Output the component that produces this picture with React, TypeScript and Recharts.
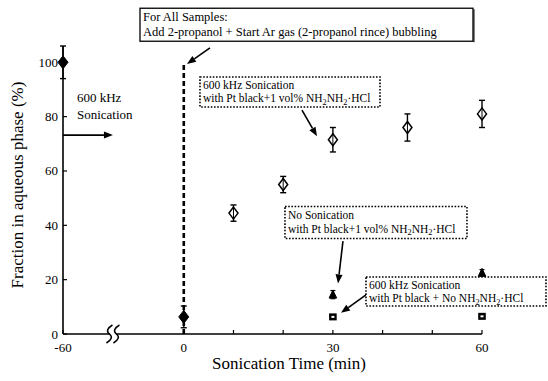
import React from 'react';
import { ScatterChart, Scatter, XAxis, YAxis, ErrorBar, ReferenceLine, ReferenceDot, Label } from 'recharts';

const FONT = "'Liberation Serif', 'Times New Roman', Times, 'DejaVu Serif', serif";

// ---- data (time in minutes, fraction in %) ----
const initialTime = [-60, 0];
const initialFraction = [100, 6.3];
const initialErr = [6, 4];

const sonicTime = [10, 20, 30, 45, 60];
const sonicFraction = [44.5, 55, 71.5, 76, 81];
const sonicErr = [3, 3, 4.5, 5, 5];

const noSonicTime = [30, 60];
const noSonicFraction = [14.5, 22.5];
const noSonicErr = [1.5, 1.2];

const noHydTime = [30, 60];
const noHydFraction = [6.3, 6.5];
const noHydErr = [0.8, 0.8];

const xTickValues = [-60, 0, 10, 20, 30, 40, 50, 60];
const xTickLabels = ['-60', '0', '', '', '30', '', '', '60'];
const yTickValues = [0, 20, 40, 60, 80, 100];
const yTickLabels = ['0', '20', '40', '60', '80', '100'];

// broken axis: the negative part is compressed
const BREAK_SCALE = 24.3 / 60;
const toAxis = (t: number) => (t < 0 ? t * BREAK_SCALE : t);

const build = (t: number[], f: number[], e: number[]) =>
  t.map((v, i) => ({ x: toAxis(v), y: f[i], err: e[i] }));

const initialData = build(initialTime, initialFraction, initialErr);
const sonicData = build(sonicTime, sonicFraction, sonicErr);
const noSonicData = build(noSonicTime, noSonicFraction, noSonicErr);
const noHydData = build(noHydTime, noHydFraction, noHydErr);

// ---- annotation texts ----
const topBoxLines = ['For All Samples:', 'Add 2-propanol + Start Ar gas (2-propanol rince) bubbling'];
const box2Lines = ['600 kHz Sonication', 'with Pt black+1 vol% NH₂NH₂·HCl'];
const box3Lines = ['No Sonication', 'with Pt black+1 vol% NH₂NH₂·HCl'];
const box4Lines = ['600 kHz Sonication', 'with Pt black + No NH₂NH₂·HCl'];
const leftLines = ['600 kHz', 'Sonication'];

const txt = { fontFamily: FONT };

// ---- shapes ----
const FilledDiamond = (p: any) => {
  const { cx, cy } = p;
  return <polygon points={`${cx},${cy - 6.5} ${cx + 5},${cy} ${cx},${cy + 6.5} ${cx - 5},${cy}`} fill="#000" stroke="#000" strokeWidth={1} />;
};
const OpenDiamond = (p: any) => {
  const { cx, cy } = p;
  return (
    <g>
      <polygon points={`${cx},${cy - 6} ${cx + 4.5},${cy} ${cx},${cy + 6} ${cx - 4.5},${cy}`} fill="#fff" stroke="#000" strokeWidth={1.5} />
      <line x1={cx} y1={cy - 6} x2={cx} y2={cy + 6} stroke="#000" strokeWidth={1} />
    </g>
  );
};
const Triangle = (p: any) => {
  const { cx, cy } = p;
  return <polygon points={`${cx},${cy - 4.5} ${cx + 3.8},${cy + 3.5} ${cx - 3.8},${cy + 3.5}`} fill="#000" stroke="#000" strokeWidth={1} />;
};
const Square = (p: any) => {
  const { cx, cy } = p;
  return (
    <g>
      <rect x={cx - 3.8} y={cy - 3.5} width={7.6} height={7} fill="#000" />
      <rect x={cx - 1.5} y={cy - 1} width={3} height={2} fill="#fff" />
    </g>
  );
};

const Rich = ({ text, fs }: { text: string; fs: number }) => {
  const parts = text.split('₂');
  const out: any[] = [];
  parts.forEach((part, i) => {
    if (i > 0) out.push(<tspan key={'s' + i} dy={2.5} fontSize={fs * 0.72}>2</tspan>);
    out.push(<tspan key={'p' + i} dy={i > 0 ? -2.5 : 0}>{part}</tspan>);
  });
  return <>{out}</>;
};

const makeBox = (lines: string[], w: number, h: number, fs: number, lh: number, dotted: boolean) => (p: any) => {
  const { cx, cy } = p;
  return (
    <g>
      <rect x={cx} y={cy} width={w} height={h} fill="#fff" stroke="#000"
        strokeWidth={dotted ? 1.6 : 1.3} strokeDasharray={dotted ? '1.6 1.6' : undefined} />
      {!dotted && <line x1={cx + w + 1} y1={cy + 1} x2={cx + w + 1} y2={cy + h + 1} stroke="#000" strokeWidth={1} />}
      {lines.map((l, i) => (
        <text key={i} x={cx + 3} y={cy + fs + 0.5 + i * lh} fontFamily={FONT} style={txt} fontSize={fs} fill="#000">
          <Rich text={l} fs={fs} />
        </text>
      ))}
    </g>
  );
};

const LeftLabel = (p: any) => {
  const { cx, cy } = p;
  return (
    <g>
      {leftLines.map((l, i) => (
        <text key={i} x={cx} y={cy + i * 17} fontFamily={FONT} style={txt} fontSize={13} fill="#000">{l}</text>
      ))}
    </g>
  );
};

const BreakMark = (p: any) => {
  const { cx, cy } = p;
  const s = (ox: number) => `M ${ox + 3} ${cy - 9} Q ${ox - 5} ${cy - 4} ${ox} ${cy} Q ${ox + 5} ${cy + 4} ${ox - 3} ${cy + 9}`;
  return (
    <g>
      <rect x={cx - 3} y={cy - 2} width={6} height={4} fill="#fff" />
      <path d={s(cx - 3.5)} fill="none" stroke="#000" strokeWidth={1.5} />
      <path d={s(cx + 3.5)} fill="none" stroke="#000" strokeWidth={1.5} />
    </g>
  );
};

const Arrow = (p: any) => {
  const { x1, y1, x2, y2 } = p;
  const ang = Math.atan2(y2 - y1, x2 - x1);
  const L = 9, W = 3.5;
  const bx = x2 - L * Math.cos(ang), by = y2 - L * Math.sin(ang);
  const nx = -Math.sin(ang) * W, ny = Math.cos(ang) * W;
  return (
    <g>
      <line x1={x1} y1={y1} x2={bx} y2={by} stroke="#000" strokeWidth={1.6} />
      <polygon points={`${x2},${y2} ${bx + nx},${by + ny} ${bx - nx},${by - ny}`} fill="#000" />
    </g>
  );
};

const XTick = (p: any) => {
  const { x, y, payload } = p;
  const i = xTickValues.findIndex((t) => Math.abs(toAxis(t) - payload.value) < 1e-6);
  const lab = i >= 0 ? xTickLabels[i] : '';
  return (
    <g>
      <line x1={x} y1={y} x2={x} y2={y - 4} stroke="#000" strokeWidth={1.2} />
      {lab && <text x={x} y={y + 18} textAnchor="middle" fontFamily={FONT} style={txt} fontSize={13} fill="#000">{lab}</text>}
    </g>
  );
};

const YTick = (p: any) => {
  const { x, y, payload } = p;
  const i = yTickValues.indexOf(payload.value);
  return (
    <g>
      <line x1={x} y1={y} x2={x + 4} y2={y} stroke="#000" strokeWidth={1.2} />
      <text x={x - 5} y={y + 4.5} textAnchor="end" fontFamily={FONT} style={txt} fontSize={13} fill="#000">{i >= 0 ? yTickLabels[i] : ''}</text>
    </g>
  );
};

const arrows = [
  [[5.27, 105.3], [0.64, 99.4]],
  [[-24.3, 73.2], [-14.25, 73.2]],
  [[23.78, 82.4], [26.8, 72.8]],
  [[32.03, 34.2], [31.03, 18.6]],
  [[36.86, 14.7], [31.63, 7.8]],
];

export default function App() {
  return (
    <div style={{ position: 'absolute', left: 0, top: 0, width: 548, height: 381, background: '#fff' }}>
      <ScatterChart width={548} height={381} margin={{ top: 46, right: 66, bottom: 17, left: 18 }}>
        <XAxis type="number" dataKey="x" domain={[toAxis(-60), 60]} ticks={xTickValues.map(toAxis)} interval={0}
          tickSize={0} tickMargin={0} tickLine={false} axisLine={{ stroke: '#000', strokeWidth: 1.6 }} height={30} tick={XTick}>
          <Label content={() => (
            <text x={289} y={369} textAnchor="middle" fontFamily={FONT} style={txt} fontSize={17} fill="#000">Sonication Time (min)</text>
          )} />
        </XAxis>
        <YAxis type="number" dataKey="y" domain={[0, 106]} ticks={yTickValues} interval={0} width={45}
          tickSize={0} tickMargin={0} tickLine={false} axisLine={{ stroke: '#000', strokeWidth: 1.6 }} tick={YTick}>
          <Label content={() => (
            <text x={23} y={185} transform="rotate(-90 23 185)" textAnchor="middle" fontFamily={FONT} style={txt} fontSize={17} fill="#000">Fraction in aqueous phase (%)</text>
          )} />
        </YAxis>

        <ReferenceLine segment={[{ x: 0, y: 0 }, { x: 0, y: 100 }]} stroke="#000" strokeWidth={2.6} strokeDasharray="5 3" ifOverflow="visible" />
        <ReferenceDot x={-14.25} y={0} r={1} ifOverflow="visible" shape={BreakMark} />

        <Scatter data={sonicData} shape={OpenDiamond} isAnimationActive={false}>
          <ErrorBar dataKey="err" direction="y" width={3} stroke="#000" strokeWidth={1.4} />
        </Scatter>
        <Scatter data={noSonicData} shape={Triangle} isAnimationActive={false}>
          <ErrorBar dataKey="err" direction="y" width={2.5} stroke="#000" strokeWidth={1.2} />
        </Scatter>
        <Scatter data={noHydData} shape={Square} isAnimationActive={false}>
          <ErrorBar dataKey="err" direction="y" width={2.5} stroke="#000" strokeWidth={1.2} />
        </Scatter>
        <Scatter data={initialData} shape={FilledDiamond} isAnimationActive={false}>
          <ErrorBar dataKey="err" direction="y" width={3} stroke="#000" strokeWidth={1.4} />
        </Scatter>

        <ReferenceDot x={-8.81} y={119.9} r={1} ifOverflow="visible" shape={makeBox(topBoxLines, 333, 33, 12.5, 14.5, false)} />
        <ReferenceDot x={3.26} y={94.6} r={1} ifOverflow="visible" shape={makeBox(box2Lines, 180, 30, 11.5, 13.5, true)} />
        <ReferenceDot x={20.36} y={46.9} r={1} ifOverflow="visible" shape={makeBox(box3Lines, 182, 32, 11.5, 14, true)} />
        <ReferenceDot x={36.66} y={21.0} r={1} ifOverflow="visible" shape={makeBox(box4Lines, 180, 29, 11.5, 13.5, true)} />
        <ReferenceDot x={-21.49} y={85.4} r={1} ifOverflow="visible" shape={LeftLabel} />

        {arrows.map((a, i) => (
          <ReferenceLine key={i} segment={[{ x: a[0][0], y: a[0][1] }, { x: a[1][0], y: a[1][1] }]} ifOverflow="visible" shape={Arrow} />
        ))}
      </ScatterChart>
    </div>
  );
}
